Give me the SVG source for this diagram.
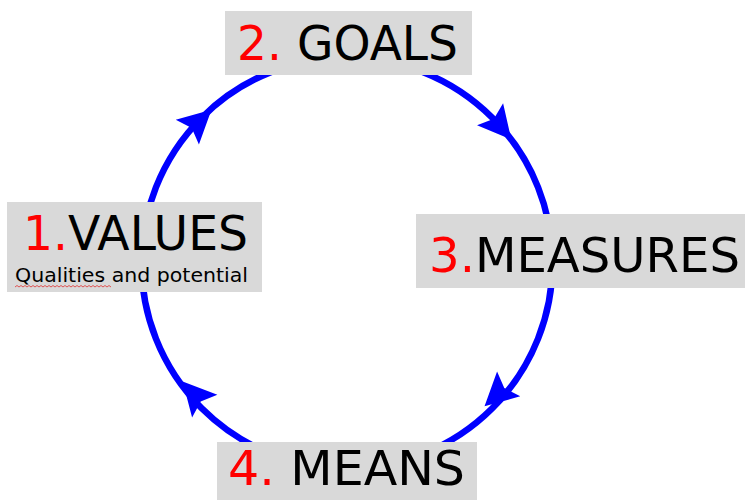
<svg xmlns="http://www.w3.org/2000/svg" width="749" height="500" viewBox="0 0 749 500">
  <defs>
    <style>
      .box { fill: #d9d9d9; }
      .lbl { font-family: "DejaVu Sans", "Liberation Sans", sans-serif; font-size: 48px; fill: #000000; }
      .num { fill: #ff0000; }
      .sub { font-family: "DejaVu Sans", "Liberation Sans", sans-serif; font-size: 20px; fill: #000000; }
      .ring { fill: none; stroke: #0000ff; stroke-width: 6.5; }
      .head { fill: #0000ff; }
    </style>
    <path id="arrowhead" class="head" d="M2,0 L-31,-17 L-25,0 L-31,17 Z"/>
  </defs>
  <rect width="749" height="500" fill="#ffffff"/>

  <g id="connectors">
    <circle class="ring" cx="347" cy="263" r="205.5"/>
    <use href="#arrowhead" transform="translate(210,111) rotate(-43)"/>
    <use href="#arrowhead" transform="translate(510,138) rotate(50)"/>
    <use href="#arrowhead" transform="translate(486,405) rotate(137)"/>
    <use href="#arrowhead" transform="translate(184,383) rotate(228)"/>
  </g>

  <g id="node-goals">
    <rect class="box" x="225" y="11" width="247" height="64"/>
    <text class="lbl" x="237" y="60" textLength="221" lengthAdjust="spacingAndGlyphs"><tspan class="num">2.</tspan> GOALS</text>
  </g>

  <g id="node-values">
    <rect class="box" x="7" y="202" width="255" height="90"/>
    <text class="lbl" x="23" y="250" textLength="225" lengthAdjust="spacingAndGlyphs"><tspan class="num">1.</tspan>VALUES</text>
    <text class="sub" x="15" y="282" textLength="233" lengthAdjust="spacingAndGlyphs">Qualities and potential</text>
    <path d="M15,287 l2,-1.5 l2,1.5 l2,-1.5 l2,1.5 l2,-1.5 l2,1.5 l2,-1.5 l2,1.5 l2,-1.5 l2,1.5 l2,-1.5 l2,1.5 l2,-1.5 l2,1.5 l2,-1.5 l2,1.5 l2,-1.5 l2,1.5 l2,-1.5 l2,1.5 l2,-1.5 l2,1.5 l2,-1.5 l2,1.5 l2,-1.5 l2,1.5 l2,-1.5 l2,1.5 l2,-1.5 l2,1.5 l2,-1.5 l2,1.5 l2,-1.5 l2,1.5 l2,-1.5 l2,1.5 l2,-1.5 l2,1.5 l2,-1.5 l2,1.5 l2,-1.5 l2,1.5 l2,-1.5 l2,1.5 l2,-1.5 l2,1.5 l2,-1.5 l2,1.5" fill="none" stroke="#e03030" stroke-width="0.8"/>
  </g>

  <g id="node-measures">
    <rect class="box" x="416" y="214" width="329" height="74"/>
    <text class="lbl" x="429" y="272" textLength="311" lengthAdjust="spacingAndGlyphs"><tspan class="num">3.</tspan>MEASURES</text>
  </g>

  <g id="node-means">
    <rect class="box" x="217" y="442" width="260" height="58"/>
    <text class="lbl" x="228" y="485" textLength="237" lengthAdjust="spacingAndGlyphs"><tspan class="num">4.</tspan> MEANS</text>
  </g>
</svg>
